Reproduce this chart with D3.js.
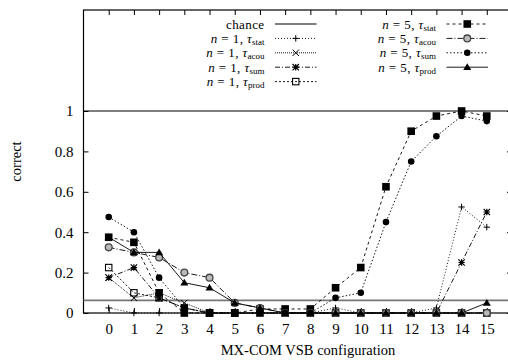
<!DOCTYPE html>
<html>
<head>
<meta charset="utf-8">
<script src="https://cdnjs.cloudflare.com/ajax/libs/d3/7.8.5/d3.min.js"></script>
<style>
  body { margin: 0; background: #fff; }
  svg text { font-family: "Liberation Serif", "Times New Roman", serif; fill: #000; }
</style>
</head>
<body>
<div id="chart"></div>
<script>
// configurations on the x axis
var configs = d3.range(0, 16);

// chance level (1 of 16)
var chance = 1 / 16;

// series values, one per configuration 0..15
var n1Stat = [0.025, 0, 0, 0, 0, 0, 0, 0, 0, 0.025, 0, 0, 0, 0.025, 0.525, 0.425];
var n1Acou = [0.175, 0.075, 0.1, 0.05, 0, 0, 0, 0, 0, 0, 0, 0, 0, 0, 0, 0];
var n1Sum = [0.175, 0.225, 0.075, 0.025, 0, 0, 0, 0, 0, 0, 0, 0, 0, 0, 0.25, 0.5];
var n1Prod = [0.225, 0.1, 0.075, 0.025, 0, 0, 0, 0, 0, 0, 0, 0, 0, 0, 0, 0];
var n5Stat = [0.375, 0.35, 0.1, 0, 0, 0, 0.02, 0.02, 0.02, 0.125, 0.225, 0.625, 0.9, 0.975, 1, 0.975];
var n5Acou = [0.325, 0.3, 0.275, 0.2, 0.175, 0.05, 0.025, 0, 0, 0, 0, 0, 0, 0, 0, 0];
var n5Sum = [0.475, 0.4, 0.175, 0.025, 0, 0, 0, 0, 0, 0.075, 0.1, 0.45, 0.75, 0.875, 0.975, 0.95];
var n5Prod = [0.375, 0.3, 0.3, 0.15, 0.125, 0.05, 0.025, 0, 0, 0, 0, 0, 0, 0, 0, 0.05];

var yTicks = [0, 0.2, 0.4, 0.6, 0.8, 1];

// n, tau subscript, values, marker, dash
var series = [
    { n: 1, sub: "stat", values: n1Stat, marker: "plus", dash: "1,2" },
    { n: 1, sub: "acou", values: n1Acou, marker: "cross", dash: "1,1" },
    { n: 1, sub: "sum", values: n1Sum, marker: "star", dash: "5,2,1,2" },
    { n: 1, sub: "prod", values: n1Prod, marker: "osquare", dash: "2,2" },
    { n: 5, sub: "stat", values: n5Stat, marker: "square", dash: "3,3" },
    { n: 5, sub: "acou", values: n5Acou, marker: "ocircle", dash: "6,2,1,2" },
    { n: 5, sub: "sum", values: n5Sum, marker: "circle", dash: "1.5,2" },
    { n: 5, sub: "prod", values: n5Prod, marker: "triangle", dash: null }
];

var FONT = '"Liberation Serif", "Times New Roman", serif';
var W = 508, H = 360;
var margin = { top: 10, right: -4, bottom: 47, left: 83.5 };
var w = W - margin.left - margin.right,
    h = H - margin.top - margin.bottom;

var root = d3.select('#chart')
    .append('svg')
    .attr('width', W)
    .attr('height', H)
    .attr('font-family', FONT);

var svg = root.append('g')
    .attr('transform', `translate(${margin.left},${margin.top})`);

var xScale = d3.scaleLinear().domain([-1, 16]).range([0, w]);
var yScale = d3.scaleLinear().domain([0, 1.5]).range([h, 0]);

// axes, ticks point inwards on all four sides
var fmt = d3.format("~g");
svg.append('g')
    .attr('transform', `translate(0,${h})`)
    .call(d3.axisBottom(xScale).tickValues(configs).tickSizeInner(-5).tickSizeOuter(0).tickPadding(10));
svg.append('g')
    .call(d3.axisTop(xScale).tickValues(configs).tickSizeInner(-5).tickSizeOuter(0).tickFormat(''));
svg.append('g')
    .call(d3.axisLeft(yScale).tickValues(yTicks).tickFormat(fmt).tickSizeInner(-5).tickSizeOuter(0).tickPadding(10));
svg.append('g')
    .attr('transform', `translate(${w},0)`)
    .call(d3.axisRight(yScale).tickValues(yTicks).tickSizeInner(-5).tickSizeOuter(0).tickFormat(''));

svg.selectAll('.domain').remove();
svg.selectAll('g').attr('font-family', FONT);
svg.selectAll('.tick line').attr('stroke', '#000').attr('stroke-width', 1);
svg.selectAll('.tick text')
    .attr('font-family', FONT)
    .style('font-size', '15px');

// border
svg.append('rect')
    .attr('width', w).attr('height', h)
    .attr('fill', 'none').attr('stroke', '#000').attr('stroke-width', 1.2);

// chance line and the line at 1
svg.append('line')
    .attr('x1', 0).attr('x2', w)
    .attr('y1', yScale(chance)).attr('y2', yScale(chance))
    .attr('stroke', '#777').attr('stroke-width', 1.8);
svg.append('line')
    .attr('x1', 0).attr('x2', w)
    .attr('y1', yScale(1)).attr('y2', yScale(1))
    .attr('stroke', '#000').attr('stroke-width', 1.2);

// markers
function drawMarker(g, type, x, y) {
    var s = 3.2;
    if (type == "plus") {
        g.append('path').attr('d', `M${x - s},${y}H${x + s}M${x},${y - s}V${y + s}`)
            .attr('stroke', '#000').attr('stroke-width', 1);
    } else if (type == "cross") {
        g.append('path').attr('d', `M${x - s},${y - s}L${x + s},${y + s}M${x - s},${y + s}L${x + s},${y - s}`)
            .attr('stroke', '#000').attr('stroke-width', 1);
    } else if (type == "star") {
        g.append('path').attr('d', `M${x - s},${y}H${x + s}M${x},${y - s}V${y + s}M${x - s},${y - s}L${x + s},${y + s}M${x - s},${y + s}L${x + s},${y - s}`)
            .attr('stroke', '#000').attr('stroke-width', 1.2);
    } else if (type == "osquare") {
        g.append('rect').attr('x', x - s).attr('y', y - s).attr('width', 2 * s).attr('height', 2 * s)
            .attr('fill', 'none').attr('stroke', '#000').attr('stroke-width', 1.1);
    } else if (type == "square") {
        g.append('rect').attr('x', x - 3.8).attr('y', y - 3.8).attr('width', 7.6).attr('height', 7.6)
            .attr('fill', '#000');
    } else if (type == "ocircle") {
        g.append('circle').attr('cx', x).attr('cy', y).attr('r', 3.4)
            .attr('fill', '#bbb').attr('stroke', '#444').attr('stroke-width', 1.3);
    } else if (type == "circle") {
        g.append('circle').attr('cx', x).attr('cy', y).attr('r', 3.3).attr('fill', '#000');
    } else if (type == "triangle") {
        g.append('path').attr('d', `M${x},${y - 4}L${x + 4},${y + 2.8}L${x - 4},${y + 2.8}Z`)
            .attr('fill', '#000');
    }
}

var line = d3.line()
    .x(function (d, i) { return xScale(configs[i]); })
    .y(function (d) { return yScale(d); });

series.forEach(function (s) {
    var g = svg.append('g');
    g.append('path')
        .datum(s.values)
        .attr('d', line)
        .attr('fill', 'none')
        .attr('stroke', '#000')
        .attr('stroke-width', 0.9)
        .attr('stroke-dasharray', s.dash);
    s.values.forEach(function (v, i) {
        drawMarker(g, s.marker, xScale(configs[i]), yScale(v));
    });
});

// legend: two columns
var legendItems = [{ label: "chance", dash: null, marker: null }].concat(series);
var legend = svg.append('g');
legendItems.forEach(function (d, i) {
    var col = i < 5 ? 0 : 1;
    var row = i < 5 ? i : i - 5;
    var tx = col == 0 ? 264.5 - margin.left : 436 - margin.left;
    var ly = 24 - margin.top + row * 14.4;
    var lx0 = tx + 10.5, lx1 = tx + 52;
    var t = legend.append('text')
        .attr('x', tx).attr('y', ly + 4.5)
        .attr('text-anchor', 'end')
        .attr('font-family', FONT)
        .style('font-size', '13px')
        .style('letter-spacing', '0.4px');
    if (d.label) {
        t.text(d.label);
    } else {
        t.append('tspan').style('font-style', 'italic').text('n');
        t.append('tspan').text(' = ' + d.n + ', ');
        t.append('tspan').style('font-style', 'italic').text('τ');
        t.append('tspan').attr('dy', 2).style('font-size', '9px').style('letter-spacing', '0px').text(d.sub);
    }
    legend.append('line')
        .attr('x1', lx0).attr('x2', lx1).attr('y1', ly).attr('y2', ly)
        .attr('stroke', '#000')
        .attr('stroke-width', d.label ? 1.2 : 0.9)
        .attr('stroke-dasharray', d.dash);
    if (d.marker) drawMarker(legend, d.marker, (lx0 + lx1) / 2, ly);
});

// axis titles
svg.append('text')
    .attr('transform', `translate(${16 - margin.left},${h / 2}) rotate(-90)`)
    .attr('text-anchor', 'middle')
    .attr('dy', '0.35em')
    .attr('font-family', FONT)
    .style('font-size', '14.5px')
    .text('correct');
svg.append('text')
    .attr('x', 308 - margin.left)
    .attr('y', 355 - margin.top)
    .attr('text-anchor', 'middle')
    .attr('font-family', FONT)
    .style('font-size', '14.5px')
    .text('MX-COM VSB configuration');
</script>
</body>
</html>
